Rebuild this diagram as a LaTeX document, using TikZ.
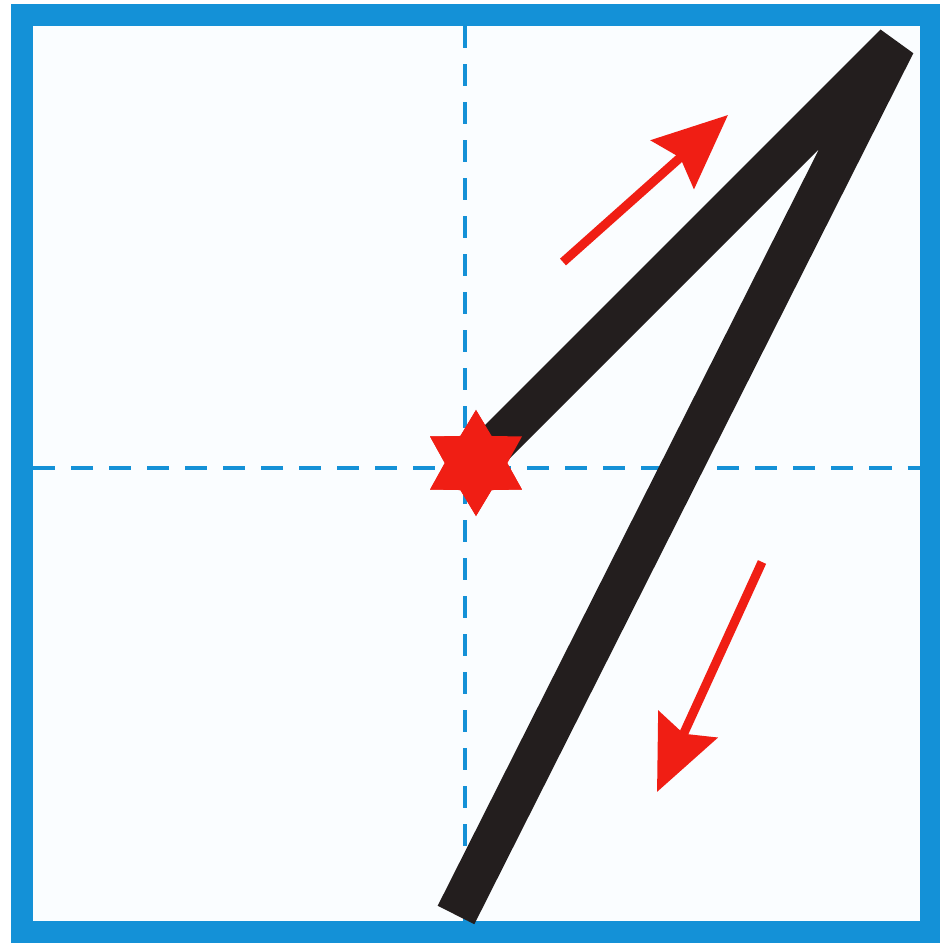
\documentclass[tikz,border=0pt]{standalone}
\usepackage{tikz}
\usetikzlibrary{arrows.meta,shapes.geometric}
\definecolor{guideblue}{RGB}{20,145,215}
\definecolor{markred}{RGB}{240,30,20}
\definecolor{ink}{RGB}{35,30,30}

\begin{document}
\begin{tikzpicture}[
  x=0.01cm,y=-0.01cm,
  frame/.style={draw=guideblue,line width=2.2mm,fill=cyan!2},
  guide/.style={draw=guideblue,line width=0.4mm,dash pattern=on 2.2mm off 1.6mm},
  pen/.style={draw=ink,line width=4.1mm,line join=bevel},
  startmark/.style={star,star points=6,star point ratio=1.7,minimum size=10.6mm,inner sep=0pt,fill=markred},
  arr/.style={draw=markred,line width=0.9mm,-{Stealth[length=7.4mm,width=6.4mm,inset=1mm]}}
]
\useasboundingbox (0,0) rectangle (940,945);
\fill[white] (0,0) rectangle (940,945);

% square with guide lines
\path[frame] (22,15) rectangle (931,932);
\draw[guide] (465,26) -- (465,921);
\draw[guide] (33,468) -- (920,468);

% the stroke of the digit
\coordinate (top) at (895,44);
\coordinate (bottom) at (456,915);
\node[startmark] (start) at (476,463) {};
\draw[pen] (start.center) -- (top) -- (bottom);
\node[startmark] at (start) {};

% direction arrows
\coordinate (upfrom) at (563,262);
\coordinate (upto) at (728,115);
\coordinate (downfrom) at (762,562);
\coordinate (downto) at (657,792);
\draw[arr] (upfrom) -- (upto);
\draw[arr] (downfrom) -- (downto);
\end{tikzpicture}
\end{document}
